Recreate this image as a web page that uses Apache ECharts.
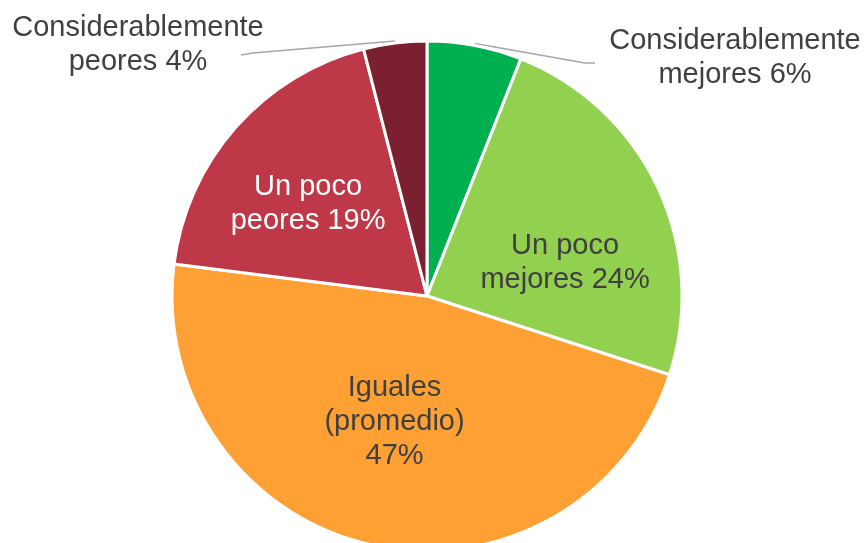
<!DOCTYPE html>
<html>
<head>
<meta charset="utf-8">
<script src="https://cdn.jsdelivr.net/npm/echarts@6/dist/echarts.min.js"></script>
<style>
html,body{margin:0;padding:0;background:#fff;}
#chart{width:867px;height:543px;}
</style>
</head>
<body>
<div id="chart"></div>
<script>
const categories = ['Considerablemente\nmejores', 'Un poco\nmejores', 'Iguales\n(promedio)\n', 'Un poco\npeores', 'Considerablemente\npeores'];
const values = [6, 24, 47, 19, 4];
const colors = ['#00B050', '#92D050', '#FFA035', '#BE3848', '#7A2030'];
const labelColors = ['#404040', '#404040', '#404040', '#ffffff', '#404040'];
const outside = [true, false, false, false, true];

const chart = echarts.init(document.getElementById('chart'));
const data = categories.map((c, i) => ({
  name: c,
  value: values[i],
  itemStyle: { color: colors[i] },
  label: {
    position: outside[i] ? 'outside' : 'inside',
    color: labelColors[i],
    formatter: c.endsWith('\n') ? c + values[i] + '%' : c + ' ' + values[i] + '%'
  },
  labelLine: { show: outside[i] }
}));

// label placement (relative to library's default label positions for inside labels)
const labelShift = [
  { x: 735, y: 58, line: [[-150, 5], [-140, 5]] },
  { dx: 20, dy: 23 },
  { dx: -4, dy: -1 },
  { dx: -21, dy: -6 },
  { x: 138, y: 45, line: [[115, 8], [103, 10]] }
];

chart.setOption({
  animation: false,
  backgroundColor: '#ffffff',
  series: [{
    type: 'pie',
    center: [427, 296],
    radius: 255,
    startAngle: 90,
    clockwise: true,
    avoidLabelOverlap: false,
    data: data,
    itemStyle: { borderColor: '#ffffff', borderWidth: 3 },
    label: {
      fontFamily: 'Liberation Sans, Arial, sans-serif',
      fontSize: 29,
      lineHeight: 34,
      align: 'center'
    },
    labelLine: {
      length: 10,
      length2: 12,
      lineStyle: { color: '#A6A6A6', width: 1.5 }
    },
    labelLayout: function (params) {
      const s = labelShift[params.dataIndex];
      if (s.x !== undefined) {
        const res = { x: s.x, y: s.y, align: 'center', verticalAlign: 'middle' };
        if (params.labelLinePoints && params.labelLinePoints.length) {
          const a = params.labelLinePoints[0];
          res.labelLinePoints = [
            [a[0], a[1] - 2],
            [s.x + s.line[0][0], s.y + s.line[0][1]],
            [s.x + s.line[1][0], s.y + s.line[1][1]]
          ];
        }
        return res;
      }
      return { dx: s.dx, dy: s.dy };
    }
  }]
});
</script>
</body>
</html>
